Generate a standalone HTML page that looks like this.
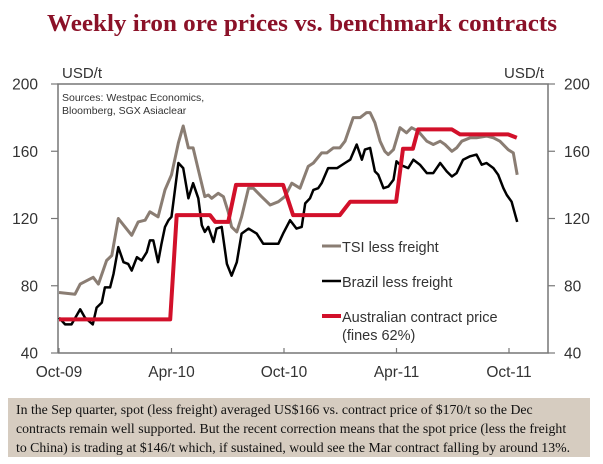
<!DOCTYPE html>
<html><head><meta charset="utf-8"><style>
html,body{margin:0;padding:0;background:#fff;}
body{width:603px;height:464px;overflow:hidden;position:relative;font-family:"Liberation Sans",sans-serif;}
#caption{position:absolute;left:8px;top:398px;width:582px;height:59px;background:#d6ccc0;font-family:"Liberation Serif",serif;font-size:13.8px;line-height:19px;color:#111;padding:2px 0 0 8px;box-sizing:border-box;white-space:nowrap;}
</style></head><body>
<svg id="chart" width="603" height="400" style="position:absolute;left:0;top:0" xmlns="http://www.w3.org/2000/svg">
<text x="302" y="31" text-anchor="middle" font-family="Liberation Serif, serif" font-weight="bold" font-size="24" fill="#8b1128" textLength="510" lengthAdjust="spacingAndGlyphs">Weekly iron ore prices vs. benchmark contracts</text>
<text x="62" y="78" font-size="15" fill="#333">USD/t</text>
<text x="544" y="78" font-size="15" fill="#333" text-anchor="end">USD/t</text>
<text x="62" y="101" font-size="10.5" fill="#333">Sources: Westpac Economics,</text>
<text x="62" y="114" font-size="10.5" fill="#333">Bloomberg, SGX Asiaclear</text>
<g id="axes"></g>
<g id="series"></g>
<g>
<line x1="322" y1="246" x2="341" y2="246" stroke="#8a7d73" stroke-width="3"/>
<text x="342" y="252" font-size="14.5" fill="#333">TSI less freight</text>
<line x1="322" y1="281" x2="341" y2="281" stroke="#000" stroke-width="2.5"/>
<text x="342" y="287" font-size="14.5" fill="#333">Brazil less freight</text>
<line x1="322" y1="316" x2="341" y2="316" stroke="#d2102a" stroke-width="4"/>
<text x="342" y="322" font-size="14.5" fill="#333">Australian contract price</text>
<text x="342" y="340" font-size="14.5" fill="#333">(fines 62%)</text>
</g>
</svg>
<div id="caption">In the Sep quarter, spot (less freight) averaged US$166 vs. contract price of $170/t so the Dec<br>contracts remain well supported. But the recent correction means that the spot price (less the freight<br>to China) is trading at $146/t which, if sustained, would see the Mar contract falling by around 13%.</div>
<script>
const yTicks=[40,80,120,160,200];
const xTickLabels=['Oct-09','Apr-10','Oct-10','Apr-11','Oct-11'];
const xTickWeeks=[0,26,52,78,104];
const tsiWeeks=[0,3.7,4.9,7.9,9.1,11,12.2,13.7,16.8,18.3,19.9,21,22.9,24.5,26,27.6,28.7,29.9,31,32.2,33.7,34.5,35.3,36.8,38,39.1,39.9,41.1,42.2,43.8,44.9,46.8,48.8,50.7,52.2,53.8,55.7,57.6,58.8,60.7,61.9,63.4,64.9,66.1,68,69.6,71.1,71.9,73,74.2,75.3,76.1,77.3,78.8,80.3,81.5,83,85,86.5,88.1,89.2,90.8,91.9,93.1,95,96.5,98.8,100.4,101.9,103.8,105,105.9];
const tsiValues=[76,75,81,85,81,95,98,120,110,118,119,124,121,137,146,165,175,162,162,149,133,134,132,135,133,124,115,112,121,138,138,133,128,130,133,141,138,151,153,159,159,162,162,166,180,180,183,183,177,166,160,158,161,174,171,174,172,166,164,166,164,160,162,166,168,168,169,168,166,161,159,146];
const brWeeks=[0,1.4,2.9,4.9,6,7.8,8.7,9.9,10.6,11.8,12.6,13.7,14.9,16,16.8,18,19.1,20.3,21,21.8,22.9,23.7,24.5,25.3,26,27.6,28.7,29.9,31,32.2,33,33.7,34.5,35.7,36.4,37.6,38.8,39.9,41.1,42.2,43.8,45.7,47.2,50.7,51.8,53.4,54.9,56.1,56.9,58,58.8,59.9,60.7,62.2,64.3,66.1,67.3,68.8,70,70.7,71.9,73,73.8,75,76.1,77.3,78,78.8,80.7,81.9,83.4,85,86.5,88.1,89.6,90.8,91.9,93.4,95,96.5,97.7,98.8,100.4,101.5,102.7,103.5,104.6,105.9];
const brValues=[61,57,57,66,61,57,67,70,79,79,87,103,94,93,89,97,95,100,107,107,94,105,115,119,121,153,150,132,141,132,116,112,115,106,114,115,93,86,94,111,114,111,105,105,111,119,114,115,129,132,137,138,141,150,150,153,155,164,155,161,162,148,146,138,139,143,154,152,150,155,152,147,147,153,148,145,147,155,157,158,152,153,150,146,138,134,130,118];
const auWeeks=[0,25.7,27.2,34.9,36.1,39.1,40.9,51.8,54.1,64.9,67.3,77.9,79.5,81.8,83,90.8,92.7,103.8,105.8];
const auValues=[60,60,122,122,118,118,140,140,122,122,130,130,161.5,161.5,173,173,170,170,168];

const X0=59,WK=112.5/26,PL=58,PR=548,PT=84,PB=353;
const xs=w=>X0+w*WK;
const ys=v=>PB-(v-40)/160*(PB-PT);
const NS='http://www.w3.org/2000/svg';
const axes=document.getElementById('axes'),ser=document.getElementById('series');
function mk(tag,attrs,parent){const e=document.createElementNS(NS,tag);for(const k in attrs)e.setAttribute(k,attrs[k]);parent.appendChild(e);return e;}
const frame=mk('path',{d:`M${PL},${PB}V${PT}H${PR}V${PB}H${PL}`,fill:'none',stroke:'#777','stroke-width':1.5},axes);


yTicks.forEach(v=>{
  const y=ys(v);
  mk('line',{x1:PL-7,y1:y,x2:PL,y2:y,stroke:'#777','stroke-width':1.2},axes);
  mk('line',{x1:PR,y1:y,x2:PR+7,y2:y,stroke:'#777','stroke-width':1.2},axes);
  const t=mk('text',{x:38,y:y+5.5,'text-anchor':'end','font-size':15.5,fill:'#333'},axes);t.textContent=v;
  
  
  const t2=mk('text',{x:564,y:y+5.5,'font-size':15.5,fill:'#333'},axes);t2.textContent=v;
  
  
});
xTickWeeks.forEach((w,i)=>{
  const x=xs(w);
  mk('line',{x1:x,y1:PB-5,x2:x,y2:PB,stroke:'#777','stroke-width':1.2},axes);
  const t=mk('text',{x:x,y:PB+24,'text-anchor':'middle','font-size':15.5,fill:'#333'},axes);t.textContent=xTickLabels[i];
  
  
});
function line(W,V,color,width,name){
  const d=W.map((w,i)=>(i?'L':'M')+xs(w).toFixed(1)+','+ys(V[i]).toFixed(1)).join('');
  const p=mk('path',{d:d,fill:'none',stroke:color,'stroke-width':width,'stroke-linejoin':'round'},ser);
  
  
}
line(tsiWeeks,tsiValues,'#8a7d73',3,'tsi-line');
line(brWeeks,brValues,'#000',2.5,'brazil-line');
line(auWeeks,auValues,'#d2102a',4,'australian-contract-line');
</script>
</body></html>
